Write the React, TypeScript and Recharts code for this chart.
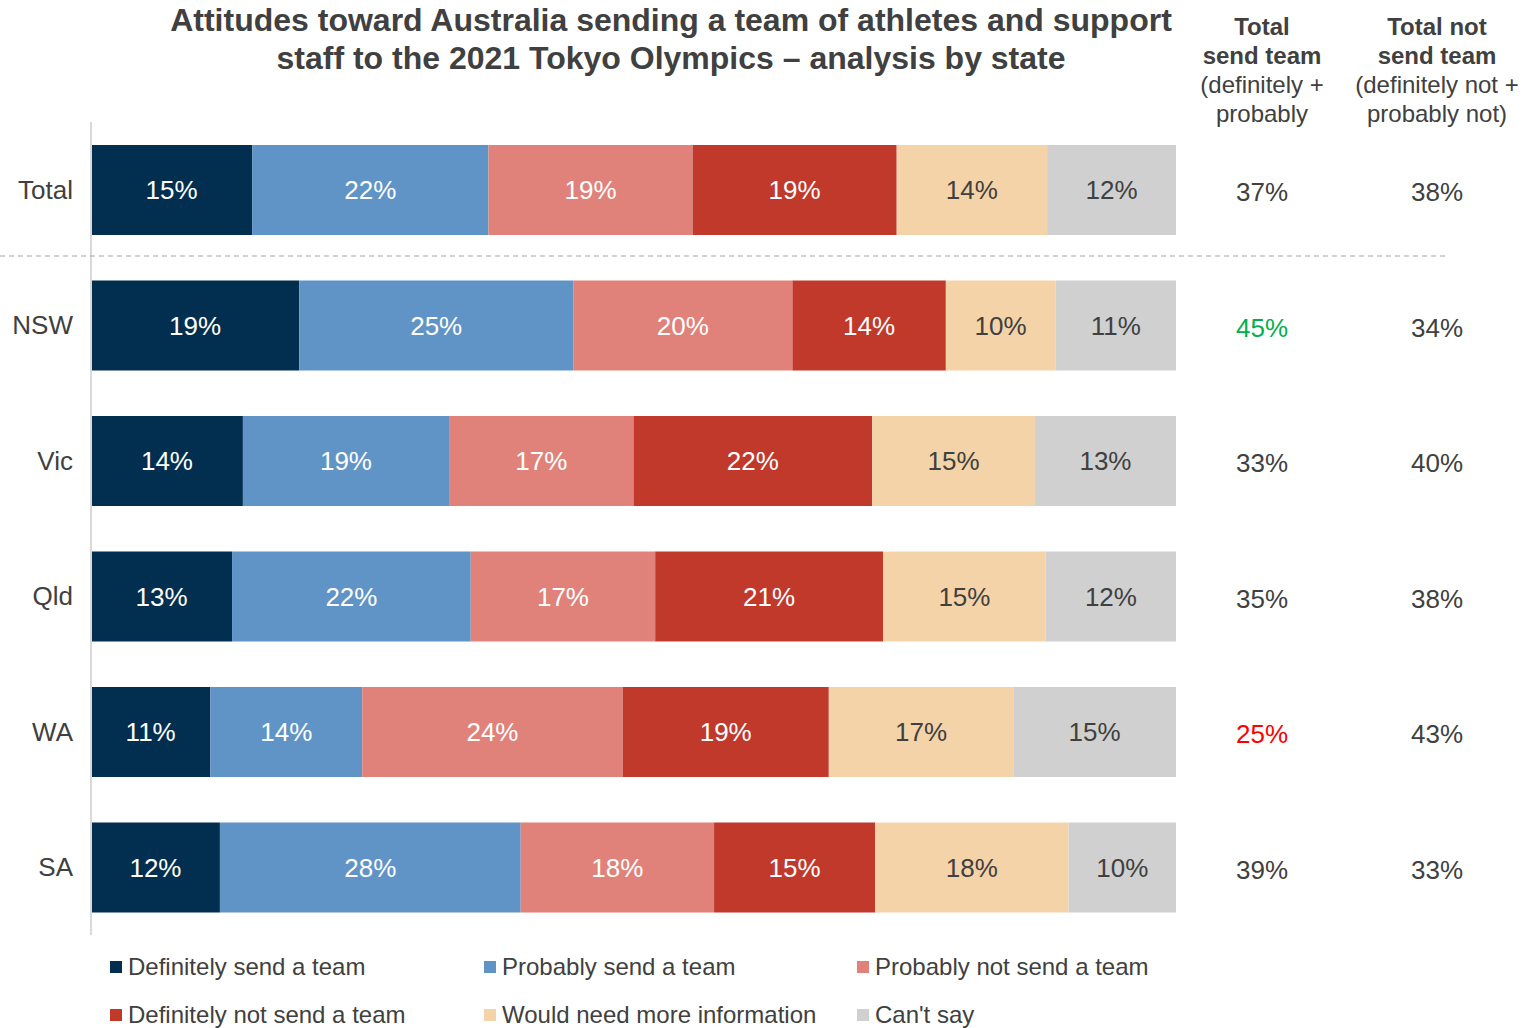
import { BarChart, Bar, XAxis, YAxis, LabelList } from "recharts"

const states = ["Total", "NSW", "Vic", "Qld", "WA", "SA"]
const definitelySend = [15, 19, 14, 13, 11, 12]
const probablySend = [22, 25, 19, 22, 14, 28]
const probablyNot = [19, 20, 17, 17, 24, 18]
const definitelyNot = [19, 14, 22, 21, 19, 15]
const needInfo = [14, 10, 15, 15, 17, 18]
const cantSay = [12, 11, 13, 12, 15, 10]
const totalSend = [37, 45, 33, 35, 25, 39]
const totalNot = [38, 34, 40, 38, 43, 33]
const sendHighlight = ["#404040", "#00b050", "#404040", "#404040", "#ff0000", "#404040"]

const FONT = "'Liberation Sans', Arial, sans-serif"
const TEXT = "#404040"

const SERIES = [
  { key: "definitelySend", name: "Definitely send a team", color: "#022f50", label: "#ffffff" },
  { key: "probablySend", name: "Probably send a team", color: "#6094c6", label: "#ffffff" },
  { key: "probablyNot", name: "Probably not send a team", color: "#e0827a", label: "#ffffff" },
  { key: "definitelyNot", name: "Definitely not send a team", color: "#c0392b", label: "#ffffff" },
  { key: "needInfo", name: "Would need more information", color: "#f5d3a9", label: TEXT },
  { key: "cantSay", name: "Can't say", color: "#d1d0d0", label: TEXT },
]

const data = states.map((state, i) => ({
  state,
  definitelySend: definitelySend[i],
  probablySend: probablySend[i],
  probablyNot: probablyNot[i],
  definitelyNot: definitelyNot[i],
  needInfo: needInfo[i],
  cantSay: cantSay[i],
  totalSend: totalSend[i],
  totalNot: totalNot[i],
}))

const SEND_X = 1262
const NOT_X = 1437

function sideLabel(colX: number, useHighlight: boolean) {
  return (props: any) => {
    const vb = props.viewBox || props
    const cy = vb.y + vb.height / 2 + 2
    const fill = useHighlight ? sendHighlight[props.index] : TEXT
    return (
      <text x={colX} y={cy} textAnchor="middle" dominantBaseline="central" fontSize={26} fill={fill} fontFamily={FONT}>
        {`${props.value}%`}
      </text>
    )
  }
}

const StateTick = ({ y, payload }: any) => (
  <text x={73} y={y} textAnchor="end" dominantBaseline="central" fontSize={26} fill={TEXT} fontFamily={FONT}>
    {payload.value}
  </text>
)

export default function App() {
  return (
    <div style={{ position: "absolute", left: 0, top: 0, width: 1537, height: 1028, background: "#fff", fontFamily: FONT, color: TEXT }}>
      <div style={{ position: "absolute", left: 121, width: 1100, top: 1, textAlign: "center", fontWeight: "bold", fontSize: 32, lineHeight: "38px" }}>
        Attitudes toward Australia sending a team of athletes and support
        <br />
        staff to the 2021 Tokyo Olympics – analysis by state
      </div>
      <div style={{ position: "absolute", left: SEND_X - 90, width: 180, top: 12, textAlign: "center", fontSize: 24, lineHeight: "29px" }}>
        <b>Total</b>
        <br />
        <b>send team</b>
        <br />
        (definitely +
        <br />
        probably
      </div>
      <div style={{ position: "absolute", left: NOT_X - 100, width: 200, top: 12, textAlign: "center", fontSize: 24, lineHeight: "29px" }}>
        <b>Total not</b>
        <br />
        <b>send team</b>
        <br />
        (definitely not +
        <br />
        probably not)
      </div>

      <BarChart
        width={1537}
        height={1028}
        data={data}
        layout="vertical"
        stackOffset="expand"
        barSize={90}
        margin={{ top: 122, right: 361, bottom: 93, left: 0 }}
        style={{ position: "absolute", left: 0, top: 0 }}
      >
        <XAxis type="number" hide domain={[0, 1]} />
        <YAxis
          type="category"
          dataKey="state"
          width={91}
          tickLine={false}
          axisLine={{ stroke: "#d9d9d9", strokeWidth: 2 }}
          tick={<StateTick />}
          interval={0}
        />
        {SERIES.map((s, i) => (
          <Bar key={s.key} dataKey={s.key} name={s.name} stackId="a" fill={s.color} isAnimationActive={false}>
            <LabelList dataKey={s.key} position="center" fill={s.label} fontSize={26} fontFamily={FONT} formatter={(v: any) => `${v}%`} />
            {i === SERIES.length - 1 && <LabelList dataKey="totalSend" content={sideLabel(SEND_X, true)} />}
            {i === SERIES.length - 1 && <LabelList dataKey="totalNot" content={sideLabel(NOT_X, false)} />}
          </Bar>
        ))}
      </BarChart>

      <svg width={1537} height={1028} style={{ position: "absolute", left: 0, top: 0, pointerEvents: "none" }}>
        <line x1={0} x2={1445} y1={256} y2={256} stroke="#a6a6a6" strokeWidth={1} strokeDasharray="5 4" />
      </svg>

      {SERIES.map((s, i) => (
        <div
          key={s.key}
          style={{
            position: "absolute",
            left: [110, 484, 857][i % 3],
            top: i < 3 ? 953 : 1001,
            display: "flex",
            alignItems: "center",
            fontSize: 24,
            lineHeight: "28px",
            whiteSpace: "nowrap",
          }}
        >
          <span style={{ display: "inline-block", width: 12, height: 12, background: s.color, marginRight: 6 }} />
          {s.name}
        </div>
      ))}
    </div>
  )
}
